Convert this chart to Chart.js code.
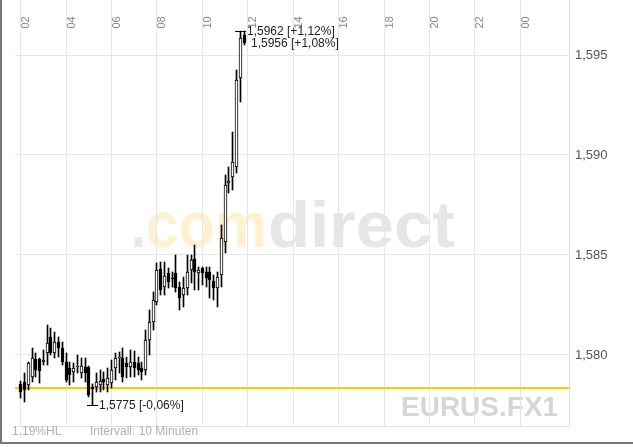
<!DOCTYPE html>
<html><head><meta charset="utf-8">
<script src="https://cdn.jsdelivr.net/npm/chart.js@4.4.1/dist/chart.umd.min.js"></script>
<style>
html,body{margin:0;padding:0;background:#fff;}
#wrap{position:relative;width:633px;height:447px;overflow:hidden;}
#c{position:absolute;left:0;top:0;}
.frameL{position:absolute;left:0;top:0;width:2px;height:444px;background:#777;}
.frameB{position:absolute;left:0;top:442px;width:633px;height:2px;background:#777;}
</style></head>
<body>
<div id="wrap"><canvas id="c" width="633" height="447"></canvas><div class="frameL"></div><div class="frameB"></div></div>
<script>
// ---- data (EUR/USD, 10-minute candles) ----
const times = ['02:00','02:10','02:20','02:30','02:40','02:50','03:00','03:10','03:20','03:30','03:40','03:50',
'04:00','04:10','04:20','04:30','04:40','04:50','05:00','05:10','05:20','05:30','05:40','05:50',
'06:00','06:10','06:20','06:30','06:40','06:50','07:00','07:10','07:20','07:30','07:40','07:50',
'08:00','08:10','08:20','08:30','08:40','08:50','09:00','09:10','09:20','09:30','09:40','09:50',
'10:00','10:10','10:20','10:30','10:40','10:50','11:00','11:10','11:20','11:30','11:40','11:50'];
const open  = [1.57855,1.57867,1.57850,1.57892,1.57978,1.57978,1.57967,1.58012,1.58092,1.58012,1.58067,1.58033,
1.57967,1.57933,1.57917,1.57942,1.57912,1.57942,1.57942,1.57838,1.57842,1.57850,1.57878,1.57850,
1.57858,1.57933,1.57983,1.57983,1.57958,1.57942,1.57967,1.57958,1.57933,1.57925,1.58075,1.58167,
1.58267,1.58428,1.58342,1.58412,1.58383,1.58408,1.58342,1.58300,1.58333,1.58425,1.58478,1.58408,
1.58433,1.58417,1.58417,1.58372,1.58333,1.58400,1.58567,1.58862,1.58892,1.58942,1.59383,1.59600];
const high  = [1.57872,1.57909,1.57967,1.58033,1.58008,1.57983,1.58025,1.58150,1.58133,1.58117,1.58092,1.58067,
1.58008,1.57967,1.57958,1.58000,1.57983,1.57983,1.57945,1.57855,1.57908,1.57925,1.57917,1.57933,
1.57975,1.58008,1.58017,1.58033,1.57992,1.58025,1.58022,1.57992,1.57967,1.58125,1.58225,1.58317,
1.58458,1.58467,1.58467,1.58433,1.58417,1.58500,1.58367,1.58392,1.58500,1.58500,1.58550,1.58442,
1.58442,1.58442,1.58442,1.58400,1.58417,1.58650,1.58900,1.58942,1.59117,1.59425,1.59620,1.59620];
const low   = [1.57784,1.57767,1.57825,1.57867,1.57892,1.57858,1.57950,1.57950,1.58000,1.57983,1.57992,1.57950,
1.57867,1.57850,1.57867,1.57908,1.57883,1.57867,1.57792,1.57750,1.57817,1.57817,1.57825,1.57817,
1.57833,1.57875,1.57908,1.57867,1.57883,1.57892,1.57892,1.57900,1.57875,1.57900,1.58000,1.58125,
1.58250,1.58300,1.58300,1.58333,1.58342,1.58317,1.58225,1.58242,1.58300,1.58358,1.58325,1.58325,
1.58350,1.58342,1.58283,1.58275,1.58242,1.58342,1.58508,1.58808,1.58825,1.58908,1.59267,1.59550];
const close = [1.57817,1.57825,1.57958,1.57983,1.57925,1.57922,1.57975,1.58062,1.58012,1.58067,1.58033,1.57967,
1.57875,1.57900,1.57933,1.57945,1.57945,1.57908,1.57800,1.57832,1.57867,1.57870,1.57867,1.57883,
1.57925,1.57983,1.57985,1.57892,1.57938,1.57967,1.57933,1.57925,1.57917,1.58075,1.58167,1.58275,
1.58425,1.58325,1.58395,1.58367,1.58380,1.58333,1.58283,1.58333,1.58417,1.58475,1.58417,1.58425,
1.58412,1.58383,1.58375,1.58333,1.58392,1.58583,1.58850,1.58870,1.58967,1.59375,1.59583,1.59560];
const referenceLevel = 1.57835;           // previous close (yellow line)
const xTickHours  = [2,4,6,8,10,12,14,16,18,20,22,24];
const xTickLabels = ['02','04','06','08','10','12','14','16','18','20','22','00'];
const yTickValues = [1.580,1.585,1.590,1.595];
const markerLabels = {high:'1,5962 [+1,12%]', last:'1,5956 [+1,08%]', low:'1,5775 [-0,06%]'};
const footerLabels = ['1,19%HL','Intervall: 10 Minuten'];
const symbolLabel = 'EURUS.FX1';
const xRange = [1.75, 26.14];
const yRange = [1.57645, 1.59775];

// ---- build ----
const hours = times.map(t => { const p = t.split(':').map(Number); return p[0] + p[1]/60; });
const bodyData = hours.map((x,i)=>({x, y:[open[i], close[i]]}));
const wickData = hours.map((x,i)=>({x, y:[low[i], high[i]]}));
const bodyFill = open.map((o,i)=> close[i] >= o ? '#ffffff' : '#000000');
const FONT = '"Liberation Sans", Arial, sans-serif';

function fitText(c, t, x, y, w){
  const m = c.measureText(t).width;
  c.save(); c.translate(x, y); c.scale(w / m, 1); c.fillText(t, 0, 0); c.restore();
}
const backPlugin = {
  id:'back',
  beforeDraw(chart){
    const c = chart.ctx;
    c.save();
    c.fillStyle = '#fff'; c.fillRect(0,0,chart.width,chart.height);
    // watermark
    c.font = 'bold 64px ' + FONT; c.textBaseline = 'alphabetic'; c.textAlign = 'left';
    c.fillStyle = '#e8e8e8'; fitText(c, '.', 131, 247, 15);
    c.fillStyle = '#fdf1cf'; fitText(c, 'com', 146, 247, 121);
    c.fillStyle = '#e6e6e6'; fitText(c, 'direct', 268, 247, 187);
    c.font = 'bold 28px ' + FONT; c.fillStyle = '#d6d6d6';
    c.fillText(symbolLabel, 401, 416);
    c.restore();
  }
};
// snap the library-computed candle elements to the pixel grid for crisp 1px strokes
const snapPlugin = {
  id:'snap',
  beforeDatasetsDraw(chart){
    chart.getSortedVisibleDatasetMetas().forEach(meta => {
      if (meta.type !== 'bar') return;
      meta.data.forEach(el => {
        el.x = Math.floor(el.x) + 0.5;
        el.y = Math.round(el.y);
        el.base = Math.round(el.base);
        if (el.y === el.base) el.base = el.y + 1;
      });
    });
  }
};
const labelPlugin = {
  id:'labels',
  afterDraw(chart){
    const c = chart.ctx, xs = chart.scales.x, ys = chart.scales.y;
    c.save();
    // x tick labels (rotated, inside top)
    c.font = '11px ' + FONT; c.fillStyle = '#888'; c.textAlign = 'left'; c.textBaseline = 'middle';
    xTickHours.forEach((h,i)=>{
      const px = xs.getPixelForValue(h);
      c.save(); c.translate(px + 5.5, 28.5); c.rotate(-Math.PI/2); c.fillText(xTickLabels[i], 0, 0); c.restore();
    });
    // high / low / last markers
    const hi = high.indexOf(Math.max(...high));
    const lo = low.indexOf(Math.min(...low));
    const last = close.length - 1;
    c.strokeStyle = '#000'; c.lineWidth = 1; c.fillStyle = '#222'; c.font = '12px ' + FONT;
    const mark = (idx, val, text, line) => {
      const px = Math.floor(xs.getPixelForValue(hours[idx])) + 0.5, py = Math.round(ys.getPixelForValue(val)) + 0.5;
      if (line) { c.beginPath(); c.moveTo(px - 5.5, py); c.lineTo(px + 5.5, py); c.stroke(); }
      c.fillText(text, px + 6.5, py);
    };
    mark(hi, high[hi], markerLabels.high, true);
    mark(lo, low[lo], markerLabels.low, true);
    mark(last, close[last], markerLabels.last, false);
    // footer
    c.fillStyle = '#b0b0b0'; c.font = '12px ' + FONT;
    c.fillText(footerLabels[0], 12, 432);
    c.fillText(footerLabels[1], 90, 432);
    c.restore();
  }
};

new Chart(document.getElementById('c'), {
  type:'bar',
  data:{datasets:[
    {type:'line', data:[{x:xRange[0],y:referenceLevel},{x:xRange[1],y:referenceLevel}], borderColor:'#ffcc00', borderWidth:2, pointRadius:0, order:3},
    {data:wickData, backgroundColor:'#000', barThickness:1, grouped:false, order:2, minBarLength:1, borderWidth:0},
    {data:bodyData, backgroundColor:bodyFill, borderColor:'#000', borderWidth:1, borderSkipped:false, barThickness:3, grouped:false, order:1, minBarLength:1}
  ]},
  options:{
    responsive:false, animation:false, devicePixelRatio:1,
    layout:{padding:{left:15,right:0,top:0,bottom:21}},
    plugins:{legend:{display:false}, tooltip:{enabled:false}},
    scales:{
      x:{type:'linear', min:xRange[0], max:xRange[1], offset:false,
         afterBuildTicks: s => { s.ticks = xTickHours.map(v=>({value:v})); },
         ticks:{display:false}, grid:{color:'#e6e6e6', drawTicks:false, offset:false},
         border:{display:true, color:'#dedede'},
         afterFit: s => { s.height = 0; s.paddingLeft = 0; s.paddingRight = 0; }},
      y:{position:'right', min:yRange[0], max:yRange[1],
         afterBuildTicks: s => { s.ticks = yTickValues.map(v=>({value:v})); },
         ticks:{callback: v => v.toFixed(3).replace('.', ','), color:'#555', font:{family:FONT, size:13}, padding:6},
         grid:{color:'#e6e6e6', drawTicks:false}, border:{display:true, color:'#dedede'},
         afterFit: s => { s.width = 64; s.paddingTop = 0; s.paddingBottom = 0; }}
    }
  },
  plugins:[backPlugin, snapPlugin, labelPlugin]
});
</script>
</body></html>
